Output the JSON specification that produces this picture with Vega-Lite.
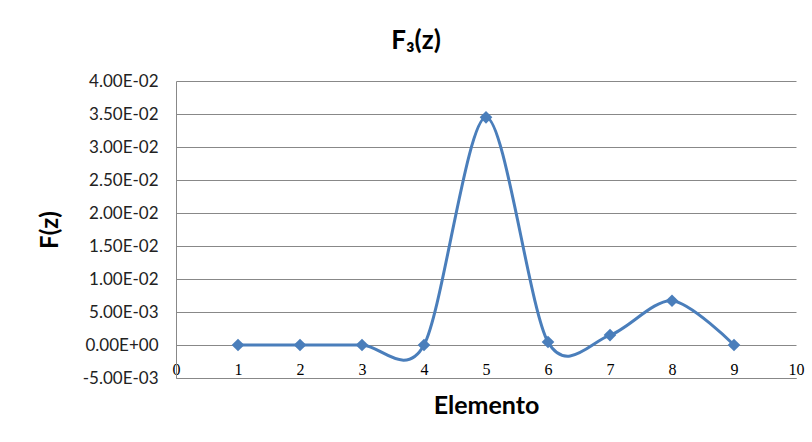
{
  "$schema": "https://vega.github.io/schema/vega-lite/v6.json",
  "width": 620,
  "height": 297,
  "autosize": "none",
  "padding": {"left": 176, "top": 81, "right": 16, "bottom": 64},
  "background": "white",
  "config": {
    "view": {"stroke": null},
    "font": "Lato"
  },
  "title": {
    "text": "F₃(z)",
    "font": "Lato",
    "fontSize": 26,
    "fontWeight": "bold",
    "color": "#000000",
    "anchor": "middle",
    "dx": -70,
    "offset": 18
  },
  "data": {
    "values": [
      {"Elemento": 1, "Fz": 0.0},
      {"Elemento": 2, "Fz": 0.0},
      {"Elemento": 3, "Fz": 0.0},
      {"Elemento": 4, "Fz": 0.0},
      {"Elemento": 5, "Fz": 0.0345},
      {"Elemento": 6, "Fz": 0.00045},
      {"Elemento": 7, "Fz": 0.0015},
      {"Elemento": 8, "Fz": 0.0067},
      {"Elemento": 9, "Fz": 0.0}
    ]
  },
  "encoding": {
    "x": {
      "field": "Elemento",
      "type": "quantitative",
      "scale": {"domain": [0, 10], "nice": false, "zero": false},
      "axis": {
        "title": "Elemento",
        "titleFont": "Lato",
        "titleFontSize": 25,
        "titleFontWeight": "bold",
        "titleColor": "#000000",
        "titlePadding": 15,
        "values": [0, 1, 2, 3, 4, 5, 6, 7, 8, 9, 10],
        "grid": false,
        "ticks": false,
        "domainColor": "#888888",
        "domainWidth": 1,
        "labelFont": "Liberation Serif",
        "labelFontSize": 16,
        "labelColor": "#000000",
        "labelPadding": -17,
        "labelFlush": false
      }
    },
    "y": {
      "field": "Fz",
      "type": "quantitative",
      "scale": {"domain": [-0.005, 0.04], "nice": false, "zero": false},
      "axis": {
        "title": "F(z)",
        "titleFont": "Lato",
        "titleFontSize": 24,
        "titleFontWeight": "bold",
        "titleColor": "#000000",
        "titlePadding": 20,
        "values": [-0.005, 0, 0.005, 0.01, 0.015, 0.02, 0.025, 0.03, 0.035, 0.04],
        "format": ".2e",
        "labelExpr": "replace(replace(format(datum.value, '.2e'), /e([+-])(\\d)$/, 'E$10$2'), '−', '-')",
        "grid": true,
        "gridColor": "#888888",
        "gridWidth": 1,
        "ticks": false,
        "domainColor": "#888888",
        "labelFont": "Lato",
        "labelFontSize": 17,
        "labelColor": "#222222",
        "labelPadding": 18
      }
    }
  },
  "layer": [
    {
      "mark": {"type": "line", "interpolate": "cardinal", "tension": 0.1, "color": "#4A7EBB", "strokeWidth": 3}
    },
    {
      "mark": {"type": "point", "shape": "diamond", "filled": true, "color": "#4A7EBB", "size": 160, "opacity": 1}
    }
  ]
}
